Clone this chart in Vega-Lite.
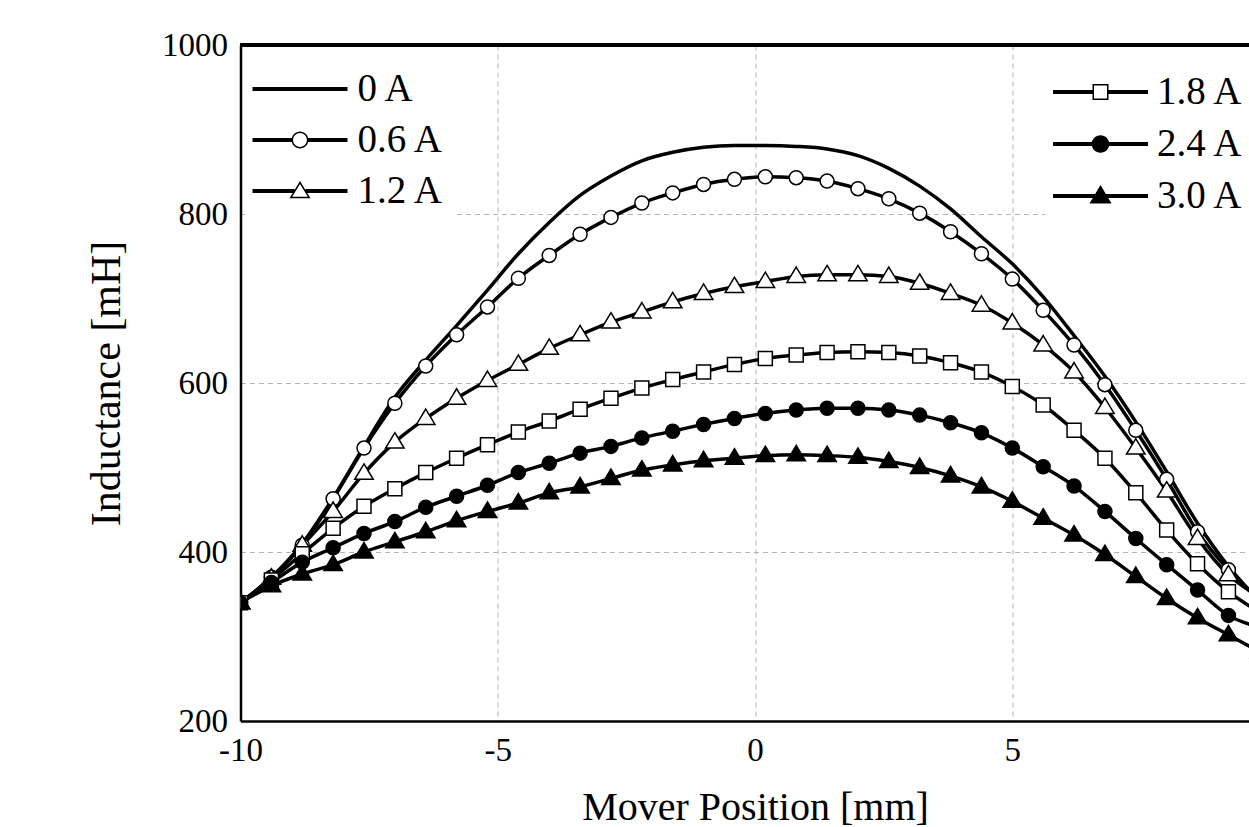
{
  "$schema": "https://vega.github.io/schema/vega-lite/v6.json",
  "width": 1008.5,
  "height": 676,
  "autosize": {"type": "none"},
  "padding": {"left": 240.5, "top": 45, "right": 0, "bottom": 106},
  "background": "white",
  "config": {
    "view": {"stroke": null},
    "font": "Liberation Serif",
    "axis": {
      "grid": true, "gridColor": "#b4b4b4", "gridDash": [5, 4], "gridWidth": 1,
      "ticks": false, "tickSize": 0, "domain": true, "domainColor": "black", "domainWidth": 2.5,
      "labelFont": "Liberation Serif", "labelFontSize": 33, "labelColor": "black", "labelPadding": 13,
      "labelFlush": false, "labelOverlap": false, "labelBound": false,
      "titleFont": "Liberation Serif", "titleFontWeight": "normal", "titleColor": "black"
    },
    "axisX": {"titleFontSize": 40, "titleX": 514.5, "titleY": 98, "titleBaseline": "alphabetic", "titleAlign": "center"},
    "axisY": {"titleFontSize": 42, "titleX": -121.5, "titleY": 338, "titleAngle": 270, "titleBaseline": "alphabetic", "titleAlign": "center"}
  },
  "data": {"values": [
    {"s":"0 A","x":-10,"v":340},{"s":"0 A","x":-9.4,"v":370},{"s":"0 A","x":-8.8,"v":410},{"s":"0 A","x":-8.2,"v":464},{"s":"0 A","x":-7.6,"v":525},{"s":"0 A","x":-7,"v":583},{"s":"0 A","x":-6.4,"v":627},{"s":"0 A","x":-5.8,"v":668},{"s":"0 A","x":-5.2,"v":710},{"s":"0 A","x":-4.6,"v":753},{"s":"0 A","x":-4,"v":790},{"s":"0 A","x":-3.4,"v":822},{"s":"0 A","x":-2.8,"v":845},{"s":"0 A","x":-2.2,"v":863},{"s":"0 A","x":-1.6,"v":873},{"s":"0 A","x":-1,"v":879},{"s":"0 A","x":-0.4,"v":881},{"s":"0 A","x":0.2,"v":881},{"s":"0 A","x":0.8,"v":880},{"s":"0 A","x":1.4,"v":877},{"s":"0 A","x":2,"v":869},{"s":"0 A","x":2.6,"v":854},{"s":"0 A","x":3.2,"v":833},{"s":"0 A","x":3.8,"v":806},{"s":"0 A","x":4.4,"v":773},{"s":"0 A","x":5,"v":741},{"s":"0 A","x":5.6,"v":702},{"s":"0 A","x":6.2,"v":656},{"s":"0 A","x":6.8,"v":608},{"s":"0 A","x":7.4,"v":554},{"s":"0 A","x":8,"v":495},{"s":"0 A","x":8.6,"v":434},{"s":"0 A","x":9.2,"v":383},{"s":"0 A","x":9.8,"v":342},
    {"s":"0.6 A","x":-10,"v":340},{"s":"0.6 A","x":-9.4,"v":370},{"s":"0.6 A","x":-8.8,"v":408},{"s":"0.6 A","x":-8.2,"v":463},{"s":"0.6 A","x":-7.6,"v":523},{"s":"0.6 A","x":-7,"v":576},{"s":"0.6 A","x":-6.4,"v":620},{"s":"0.6 A","x":-5.8,"v":657},{"s":"0.6 A","x":-5.2,"v":690},{"s":"0.6 A","x":-4.6,"v":724},{"s":"0.6 A","x":-4,"v":751},{"s":"0.6 A","x":-3.4,"v":776},{"s":"0.6 A","x":-2.8,"v":796},{"s":"0.6 A","x":-2.2,"v":813},{"s":"0.6 A","x":-1.6,"v":825},{"s":"0.6 A","x":-1,"v":835},{"s":"0.6 A","x":-0.4,"v":841},{"s":"0.6 A","x":0.2,"v":844},{"s":"0.6 A","x":0.8,"v":843},{"s":"0.6 A","x":1.4,"v":839},{"s":"0.6 A","x":2,"v":830},{"s":"0.6 A","x":2.6,"v":818},{"s":"0.6 A","x":3.2,"v":801},{"s":"0.6 A","x":3.8,"v":779},{"s":"0.6 A","x":4.4,"v":753},{"s":"0.6 A","x":5,"v":723},{"s":"0.6 A","x":5.6,"v":686},{"s":"0.6 A","x":6.2,"v":645},{"s":"0.6 A","x":6.8,"v":598},{"s":"0.6 A","x":7.4,"v":544},{"s":"0.6 A","x":8,"v":486},{"s":"0.6 A","x":8.6,"v":424},{"s":"0.6 A","x":9.2,"v":379},{"s":"0.6 A","x":9.8,"v":345},
    {"s":"1.2 A","x":-10,"v":340},{"s":"1.2 A","x":-9.4,"v":369},{"s":"1.2 A","x":-8.8,"v":408},{"s":"1.2 A","x":-8.2,"v":448},{"s":"1.2 A","x":-7.6,"v":493},{"s":"1.2 A","x":-7,"v":530},{"s":"1.2 A","x":-6.4,"v":558},{"s":"1.2 A","x":-5.8,"v":582},{"s":"1.2 A","x":-5.2,"v":603},{"s":"1.2 A","x":-4.6,"v":622},{"s":"1.2 A","x":-4,"v":641},{"s":"1.2 A","x":-3.4,"v":657},{"s":"1.2 A","x":-2.8,"v":672},{"s":"1.2 A","x":-2.2,"v":684},{"s":"1.2 A","x":-1.6,"v":696},{"s":"1.2 A","x":-1,"v":706},{"s":"1.2 A","x":-0.4,"v":714},{"s":"1.2 A","x":0.2,"v":720},{"s":"1.2 A","x":0.8,"v":726},{"s":"1.2 A","x":1.4,"v":728},{"s":"1.2 A","x":2,"v":728},{"s":"1.2 A","x":2.6,"v":726},{"s":"1.2 A","x":3.2,"v":718},{"s":"1.2 A","x":3.8,"v":706},{"s":"1.2 A","x":4.4,"v":692},{"s":"1.2 A","x":5,"v":671},{"s":"1.2 A","x":5.6,"v":645},{"s":"1.2 A","x":6.2,"v":613},{"s":"1.2 A","x":6.8,"v":571},{"s":"1.2 A","x":7.4,"v":523},{"s":"1.2 A","x":8,"v":472},{"s":"1.2 A","x":8.6,"v":416},{"s":"1.2 A","x":9.2,"v":373},{"s":"1.2 A","x":9.8,"v":347},
    {"s":"1.8 A","x":-10,"v":340},{"s":"1.8 A","x":-9.4,"v":367},{"s":"1.8 A","x":-8.8,"v":398},{"s":"1.8 A","x":-8.2,"v":428},{"s":"1.8 A","x":-7.6,"v":454},{"s":"1.8 A","x":-7,"v":475},{"s":"1.8 A","x":-6.4,"v":494},{"s":"1.8 A","x":-5.8,"v":511},{"s":"1.8 A","x":-5.2,"v":527},{"s":"1.8 A","x":-4.6,"v":542},{"s":"1.8 A","x":-4,"v":555},{"s":"1.8 A","x":-3.4,"v":569},{"s":"1.8 A","x":-2.8,"v":582},{"s":"1.8 A","x":-2.2,"v":594},{"s":"1.8 A","x":-1.6,"v":604},{"s":"1.8 A","x":-1,"v":613},{"s":"1.8 A","x":-0.4,"v":622},{"s":"1.8 A","x":0.2,"v":629},{"s":"1.8 A","x":0.8,"v":633},{"s":"1.8 A","x":1.4,"v":636},{"s":"1.8 A","x":2,"v":637},{"s":"1.8 A","x":2.6,"v":636},{"s":"1.8 A","x":3.2,"v":632},{"s":"1.8 A","x":3.8,"v":624},{"s":"1.8 A","x":4.4,"v":613},{"s":"1.8 A","x":5,"v":596},{"s":"1.8 A","x":5.6,"v":574},{"s":"1.8 A","x":6.2,"v":544},{"s":"1.8 A","x":6.8,"v":511},{"s":"1.8 A","x":7.4,"v":470},{"s":"1.8 A","x":8,"v":426},{"s":"1.8 A","x":8.6,"v":386},{"s":"1.8 A","x":9.2,"v":353},{"s":"1.8 A","x":9.8,"v":329},
    {"s":"2.4 A","x":-10,"v":340},{"s":"2.4 A","x":-9.4,"v":364},{"s":"2.4 A","x":-8.8,"v":388},{"s":"2.4 A","x":-8.2,"v":405},{"s":"2.4 A","x":-7.6,"v":422},{"s":"2.4 A","x":-7,"v":436},{"s":"2.4 A","x":-6.4,"v":453},{"s":"2.4 A","x":-5.8,"v":466},{"s":"2.4 A","x":-5.2,"v":479},{"s":"2.4 A","x":-4.6,"v":494},{"s":"2.4 A","x":-4,"v":505},{"s":"2.4 A","x":-3.4,"v":517},{"s":"2.4 A","x":-2.8,"v":525},{"s":"2.4 A","x":-2.2,"v":535},{"s":"2.4 A","x":-1.6,"v":543},{"s":"2.4 A","x":-1,"v":551},{"s":"2.4 A","x":-0.4,"v":558},{"s":"2.4 A","x":0.2,"v":564},{"s":"2.4 A","x":0.8,"v":568},{"s":"2.4 A","x":1.4,"v":570},{"s":"2.4 A","x":2,"v":570},{"s":"2.4 A","x":2.6,"v":568},{"s":"2.4 A","x":3.2,"v":562},{"s":"2.4 A","x":3.8,"v":553},{"s":"2.4 A","x":4.4,"v":541},{"s":"2.4 A","x":5,"v":523},{"s":"2.4 A","x":5.6,"v":501},{"s":"2.4 A","x":6.2,"v":478},{"s":"2.4 A","x":6.8,"v":448},{"s":"2.4 A","x":7.4,"v":416},{"s":"2.4 A","x":8,"v":385},{"s":"2.4 A","x":8.6,"v":355},{"s":"2.4 A","x":9.2,"v":325},{"s":"2.4 A","x":9.8,"v":311},
    {"s":"3.0 A","x":-10,"v":340},{"s":"3.0 A","x":-9.4,"v":360},{"s":"3.0 A","x":-8.8,"v":374},{"s":"3.0 A","x":-8.2,"v":385},{"s":"3.0 A","x":-7.6,"v":400},{"s":"3.0 A","x":-7,"v":412},{"s":"3.0 A","x":-6.4,"v":424},{"s":"3.0 A","x":-5.8,"v":437},{"s":"3.0 A","x":-5.2,"v":448},{"s":"3.0 A","x":-4.6,"v":458},{"s":"3.0 A","x":-4,"v":470},{"s":"3.0 A","x":-3.4,"v":477},{"s":"3.0 A","x":-2.8,"v":487},{"s":"3.0 A","x":-2.2,"v":497},{"s":"3.0 A","x":-1.6,"v":503},{"s":"3.0 A","x":-1,"v":508},{"s":"3.0 A","x":-0.4,"v":511},{"s":"3.0 A","x":0.2,"v":514},{"s":"3.0 A","x":0.8,"v":515},{"s":"3.0 A","x":1.4,"v":514},{"s":"3.0 A","x":2,"v":512},{"s":"3.0 A","x":2.6,"v":507},{"s":"3.0 A","x":3.2,"v":500},{"s":"3.0 A","x":3.8,"v":490},{"s":"3.0 A","x":4.4,"v":477},{"s":"3.0 A","x":5,"v":460},{"s":"3.0 A","x":5.6,"v":440},{"s":"3.0 A","x":6.2,"v":420},{"s":"3.0 A","x":6.8,"v":397},{"s":"3.0 A","x":7.4,"v":371},{"s":"3.0 A","x":8,"v":345},{"s":"3.0 A","x":8.6,"v":322},{"s":"3.0 A","x":9.2,"v":302},{"s":"3.0 A","x":9.8,"v":282}
  ]},
  "resolve": {"scale": {"shape": "independent", "fill": "independent"}, "legend": {"shape": "independent"}},
  "layer": [
    {
      "mark": {"type": "line", "color": "black", "strokeWidth": 3.5, "clip": true, "interpolate": "monotone"},
      "encoding": {
        "x": {"field": "x", "type": "quantitative", "title": "Mover Position [mm]",
          "scale": {"domain": [-10, 9.6], "nice": false, "zero": false},
          "axis": {"values": [-10, -5, 0, 5], "labelExpr": "datum.value + ''"}},
        "y": {"field": "v", "type": "quantitative", "title": "Inductance [mH]",
          "scale": {"domain": [200, 1000], "nice": false, "zero": false},
          "axis": {"values": [200, 400, 600, 800, 1000], "labelExpr": "datum.value + ''"}},
        "detail": {"field": "s", "type": "nominal"}
      }
    },
    {
      "transform": [{"filter": "datum.s !== '0 A'"}],
      "mark": {"type": "point", "filled": true, "size": 196, "stroke": "black", "strokeWidth": 1.5, "opacity": 1, "clip": true},
      "encoding": {
        "x": {"field": "x", "type": "quantitative", "title": "Mover Position [mm]",
          "axis": {"values": [-10, -5, 0, 5], "labelExpr": "datum.value + ''"}},
        "y": {"field": "v", "type": "quantitative", "title": "Inductance [mH]",
          "axis": {"values": [200, 400, 600, 800, 1000], "labelExpr": "datum.value + ''"}},
        "shape": {"field": "s", "type": "nominal", "legend": null,
          "scale": {"domain": ["0.6 A", "1.2 A", "1.8 A", "2.4 A", "3.0 A"],
            "range": ["circle", "M0,-1.35L1.32,0.85L-1.32,0.85Z", "square", "circle", "M0,-1.35L1.32,0.85L-1.32,0.85Z"]}},
        "fill": {"field": "s", "type": "nominal", "legend": null,
          "scale": {"domain": ["0.6 A", "1.2 A", "1.8 A", "2.4 A", "3.0 A"],
            "range": ["white", "white", "white", "black", "black"]}}
      }
    },
    {
      "transform": [{"filter": "false"}],
      "mark": {"type": "point", "filled": true, "size": 400, "color": "black", "opacity": 1, "strokeWidth": 0},
      "encoding": {
        "shape": {"field": "s", "type": "nominal",
          "scale": {"domain": ["0 A", "0.6 A", "1.2 A"],
            "range": [
              "M-4.75,-0.2H4.75V0.2H-4.75Z",
              "M-4.75,-0.2H-0.78V0.2H-4.75ZM0.78,-0.2H4.75V0.2H0.78ZM0.84,0C0.84,0.464,0.464,0.84,0,0.84C-0.464,0.84,-0.84,0.464,-0.84,0C-0.84,-0.464,-0.464,-0.84,0,-0.84C0.464,-0.84,0.84,-0.464,0.84,0ZM0.69,0C0.69,-0.381,0.381,-0.69,0,-0.69C-0.381,-0.69,-0.69,-0.381,-0.69,0C-0.69,0.381,-0.381,0.69,0,0.69C0.381,0.69,0.69,0.381,0.69,0Z",
              "M-4.75,-0.2H-0.55V0.2H-4.75ZM0.55,-0.2H4.75V0.2H0.55ZM0,-1L1.05,0.72L-1.05,0.72ZM0,-0.712L-0.782,0.57L0.782,0.57Z"
            ]},
          "legend": {"title": null, "orient": "none", "legendX": 4.5, "legendY": 16.5, "padding": 8,
            "fillColor": "white", "strokeColor": null,
            "symbolSize": 400, "symbolFillColor": "black", "symbolStrokeWidth": 0, "symbolStrokeColor": "transparent", "symbolOpacity": 1,
            "symbolOffset": 27.5, "labelOffset": 38, "rowPadding": 11, "labelLimit": 0,
            "labelFont": "Liberation Serif", "labelFontSize": 39, "labelColor": "black"}}
      }
    },
    {
      "transform": [{"filter": "false"}],
      "mark": {"type": "point", "filled": true, "size": 400, "color": "black", "opacity": 1, "strokeWidth": 0},
      "encoding": {
        "shape": {"field": "s", "type": "nominal",
          "scale": {"domain": ["1.8 A", "2.4 A", "3.0 A"],
            "range": [
              "M-4.75,-0.2H-0.72V0.2H-4.75ZM0.72,-0.2H4.75V0.2H0.72ZM-0.8,-0.8H0.8V0.8H-0.8ZM-0.65,-0.65V0.65H0.65V-0.65Z",
              "M-4.75,-0.2H-0.7V0.2H-4.75ZM0.7,-0.2H4.75V0.2H0.7ZM0.88,0C0.88,0.486,0.486,0.88,0,0.88C-0.486,0.88,-0.88,0.486,-0.88,0C-0.88,-0.486,-0.486,-0.88,0,-0.88C0.486,-0.88,0.88,-0.486,0.88,0Z",
              "M-4.75,-0.2H-0.45V0.2H-4.75ZM0.45,-0.2H4.75V0.2H0.45ZM0,-1.1L1.1,0.75L-1.1,0.75Z"
            ]},
          "legend": {"title": null, "orient": "none", "legendX": 805, "legendY": 19.5, "padding": 8,
            "fillColor": "white", "strokeColor": null,
            "symbolSize": 400, "symbolFillColor": "black", "symbolStrokeWidth": 0, "symbolStrokeColor": "transparent", "symbolOpacity": 1,
            "symbolOffset": 27.5, "labelOffset": 37, "rowPadding": 12, "labelLimit": 0,
            "labelFont": "Liberation Serif", "labelFontSize": 39, "labelColor": "black"}}
      }
    },
    {
      "mark": {"type": "rule", "color": "black", "strokeWidth": 2.5},
      "encoding": {"y": {"datum": 1000, "type": "quantitative", "title": "Inductance [mH]"}}
    }
  ]
}
